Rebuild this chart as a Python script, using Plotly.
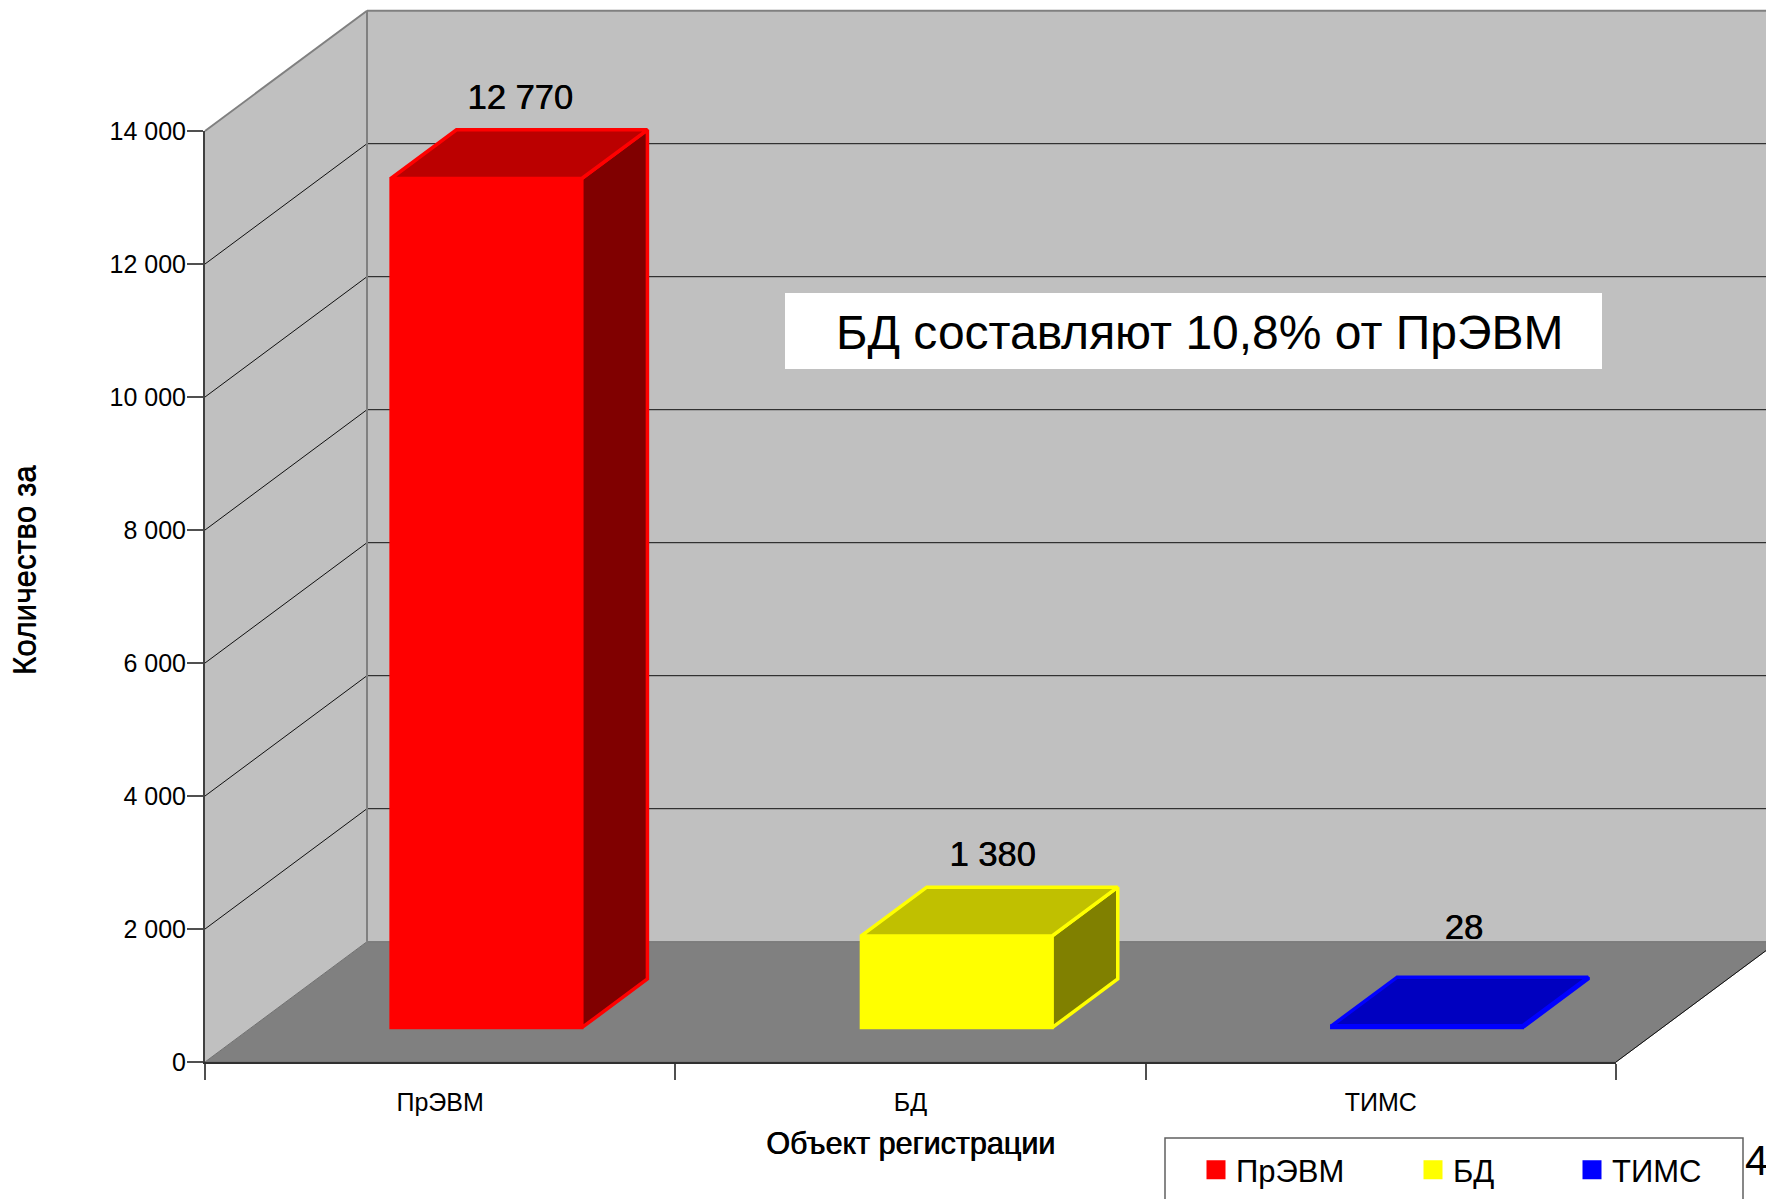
import plotly.graph_objects as go

# ---- data ----
categories = ["ПрЭВМ", "БД", "ТИМС"]
values = [12770, 1380, 28]
value_labels = ["12 770", "1 380", "28"]
tick_values = [0, 2000, 4000, 6000, 8000, 10000, 12000, 14000]
tick_labels = ["0", "2 000", "4 000", "6 000", "8 000", "10 000", "12 000", "14 000"]
front_colors = ["#FF0000", "#FFFF00", "#0000FF"]
top_colors = ["#BB0000", "#C0C000", "#0000C0"]
side_colors = ["#800000", "#808000", "#000080"]

# ---- page / projection ----
W, H = 1766, 1199
X0, X1, Y0, Y14 = 205, 1616, 1062, 131   # pixel frame of the front plane
PX_CAT = (X1 - X0) / 3
PX_VAL = (Y0 - Y14) / 14000
DEPTH_X = 162 / PX_CAT      # wall depth in category units
DEPTH_Y = 120.3 / PX_VAL    # wall depth in value units
BAR_W = 0.406
INSET, LEN = 0.285, 0.405   # bar position along the depth (fractions)
LABEL_LIFT = [29, 30, 47]   # label gap above the bar's top back edge, px
LABEL_SHIFT = [1, 3, 4]     # label sideways nudge, px

xr = [-X0 / PX_CAT, (W - X0) / PX_CAT]
yr = [(Y0 - H) / PX_VAL, Y0 / PX_VAL]
FONT = "Liberation Sans"


def poly(pts):
    return "M" + " L".join(f"{a},{b}" for a, b in pts) + " Z"


def to_x(px):
    return (px - X0) / PX_CAT


def to_y(py):
    return (Y0 - py) / PX_VAL


fig = go.Figure()
shapes = []
Ymax = tick_values[-1]
Xn = len(categories)

# walls and floor
shapes.append(dict(type="path", layer="below", xref="x", yref="y", fillcolor="#C0C0C0", line_width=0,
                   path=poly([(0, 0), (0, Ymax), (DEPTH_X, Ymax + DEPTH_Y), (DEPTH_X, DEPTH_Y)])))
shapes.append(dict(type="path", layer="below", xref="x", yref="y", fillcolor="#C0C0C0", line_width=0,
                   path=poly([(DEPTH_X, DEPTH_Y), (DEPTH_X, Ymax + DEPTH_Y), (Xn + DEPTH_X, Ymax + DEPTH_Y), (Xn + DEPTH_X, DEPTH_Y)])))
shapes.append(dict(type="path", layer="below", xref="x", yref="y", fillcolor="#808080",
                   line=dict(color="#707070", width=1),
                   path=poly([(0, 0), (Xn, 0), (Xn + DEPTH_X, DEPTH_Y), (DEPTH_X, DEPTH_Y)])))

# grid lines on both walls
for v in tick_values[1:-1]:
    for a, b, c, d in [(0, v, DEPTH_X, v + DEPTH_Y), (DEPTH_X, v + DEPTH_Y, Xn + DEPTH_X, v + DEPTH_Y)]:
        shapes.append(dict(type="line", layer="below", xref="x", yref="y", x0=a, y0=b, x1=c, y1=d,
                           line=dict(color="#101010", width=1)))

# wall edges
EDGE = dict(color="#808080", width=2)
for a, b, c, d in [(0, Ymax, DEPTH_X, Ymax + DEPTH_Y),
                   (DEPTH_X, Ymax + DEPTH_Y, Xn + DEPTH_X, Ymax + DEPTH_Y),
                   (DEPTH_X, DEPTH_Y, DEPTH_X, Ymax + DEPTH_Y)]:
    shapes.append(dict(type="line", layer="below", xref="x", yref="y", x0=a, y0=b, x1=c, y1=d, line=EDGE))
shapes.append(dict(type="line", layer="below", xref="x", yref="y", x0=Xn, y0=0, x1=Xn + DEPTH_X, y1=DEPTH_Y,
                   line=dict(color="#101010", width=1)))

# white note box and open-bottom legend frame
shapes.append(dict(type="rect", layer="below", xref="x", yref="y", x0=to_x(785), x1=to_x(1602),
                   y0=to_y(369), y1=to_y(293), fillcolor="#FFFFFF", line_width=0))
shapes.append(dict(type="path", xref="paper", yref="paper", line=dict(color="#606060", width=1.5),
                   path=f"M{1165 / W},0 L{1165 / W},{1 - 1138 / H} L{1743 / W},{1 - 1138 / H} L{1743 / W},0"))

# 3D bars
for i, (c, v) in enumerate(zip(categories, values)):
    cx = i + 0.5 + INSET * DEPTH_X
    base = INSET * DEPTH_Y
    ddx, ddy = LEN * DEPTH_X, LEN * DEPTH_Y
    l, r = cx - BAR_W / 2, cx + BAR_W / 2
    top = base + v
    fig.add_trace(go.Bar(x=[cx], y=[v], base=[base], width=[BAR_W],
                         marker=dict(color=front_colors[i], line=dict(color=front_colors[i], width=3)),
                         showlegend=False, hoverinfo="skip"))
    fig.add_trace(go.Scatter(x=[r, r + ddx, r + ddx, r, r], y=[base, base + ddy, top + ddy, top, base],
                             mode="lines", fill="toself", fillcolor=side_colors[i],
                             line=dict(color=front_colors[i], width=3.5), showlegend=False, hoverinfo="skip"))
    fig.add_trace(go.Scatter(x=[l, r, r + ddx, l + ddx, l], y=[top, top, top + ddy, top + ddy, top],
                             mode="lines", fill="toself", fillcolor=top_colors[i],
                             line=dict(color=front_colors[i], width=3.5), showlegend=False, hoverinfo="skip"))
    fig.add_trace(go.Scatter(x=[cx + ddx / 2 + LABEL_SHIFT[i] / PX_CAT], y=[top + ddy + LABEL_LIFT[i] / PX_VAL],
                             mode="text", text=[value_labels[i]], textposition="middle center",
                             textfont=dict(family=FONT, size=34.5, color="#000000", shadow="0.6px 0 0 #000000"),
                             showlegend=False, hoverinfo="skip"))

# legend entries, each placed on its own
legend_x = [1196, 1413, 1572]
for i, c in enumerate(categories):
    name = "legend" if i == 0 else f"legend{i + 1}"
    fig.add_trace(go.Scatter(x=[None], y=[None], mode="markers", name=c, legend=name, xaxis="x2", yaxis="y2",
                             marker=dict(symbol="square", size=16, color=front_colors[i],
                                         line=dict(color=front_colors[i], width=3))))

legend_style = dict(yanchor="middle", xanchor="left", y=1 - 1170 / H, bgcolor="rgba(0,0,0,0)",
                    borderwidth=0, itemsizing="trace", font=dict(family=FONT, size=31, color="#000000"))

fig.update_layout(
    width=W, height=H, autosize=False, margin=dict(l=0, r=0, t=0, b=0, pad=0, autoexpand=False),
    paper_bgcolor="#FFFFFF", plot_bgcolor="rgba(0,0,0,0)", shapes=shapes, barmode="overlay",
    legend=dict(x=legend_x[0] / W, **legend_style),
    legend2=dict(x=legend_x[1] / W, **legend_style),
    legend3=dict(x=legend_x[2] / W, **legend_style),
    xaxis=dict(range=xr, domain=[0, 1], visible=False, fixedrange=True),
    yaxis=dict(range=yr, domain=[0, 1], visible=False, fixedrange=True),
    xaxis2=dict(domain=[X0 / W, X1 / W], range=[0, Xn], anchor="y2",
                tickmode="array", tickvals=[i + 0.5 for i in range(Xn)], ticktext=categories,
                ticks="", ticklabelstandoff=17, showgrid=False, zeroline=False,
                showline=True, linecolor="#303030", linewidth=2,
                tickfont=dict(family=FONT, size=25, color="#000000"),
                minor=dict(tickmode="array", tickvals=list(range(Xn + 1)), ticks="outside", ticklen=16,
                           tickcolor="#505050", tickwidth=1.5, showgrid=False),
                title=dict(text="Объект регистрации", standoff=18,
                           font=dict(family=FONT, size=30.5, color="#000000", shadow="0.7px 0 0 #000000"))),
    yaxis2=dict(domain=[1 - Y0 / H, 1 - Y14 / H], range=[0, Ymax], anchor="x2",
                tickmode="array", tickvals=tick_values, ticktext=tick_labels,
                ticks="outside", ticklen=16, tickcolor="#505050", tickwidth=1.5, ticklabelstandoff=-4,
                showgrid=False, zeroline=False, showline=True, linecolor="#404040", linewidth=2,
                tickfont=dict(family=FONT, size=25, color="#000000")),
    annotations=[
        dict(text="БД составляют 10,8% от ПрЭВМ", xref="paper", yref="paper", x=1199 / W, y=1 - 332 / H,
             xanchor="center", yanchor="middle",
             showarrow=False, font=dict(family=FONT, size=48, color="#000000")),
        dict(text="Количество за", xref="paper", yref="paper", x=24 / W, y=1 - 570 / H, textangle=-90,
             xanchor="center", yanchor="middle",
             showarrow=False, font=dict(family=FONT, size=31.5, color="#000000", shadow="0 0.8px 0 #000000")),
        dict(text="4", xref="paper", yref="paper", x=1743 / W, y=1 - 1160 / H, xanchor="left", yanchor="middle",
             showarrow=False, font=dict(family=FONT, size=42, color="#000000")),
    ],
)

fig.write_html("out.html", config={"displayModeBar": False},
               post_script="document.body.style.margin='0';document.body.style.overflow='hidden';")
